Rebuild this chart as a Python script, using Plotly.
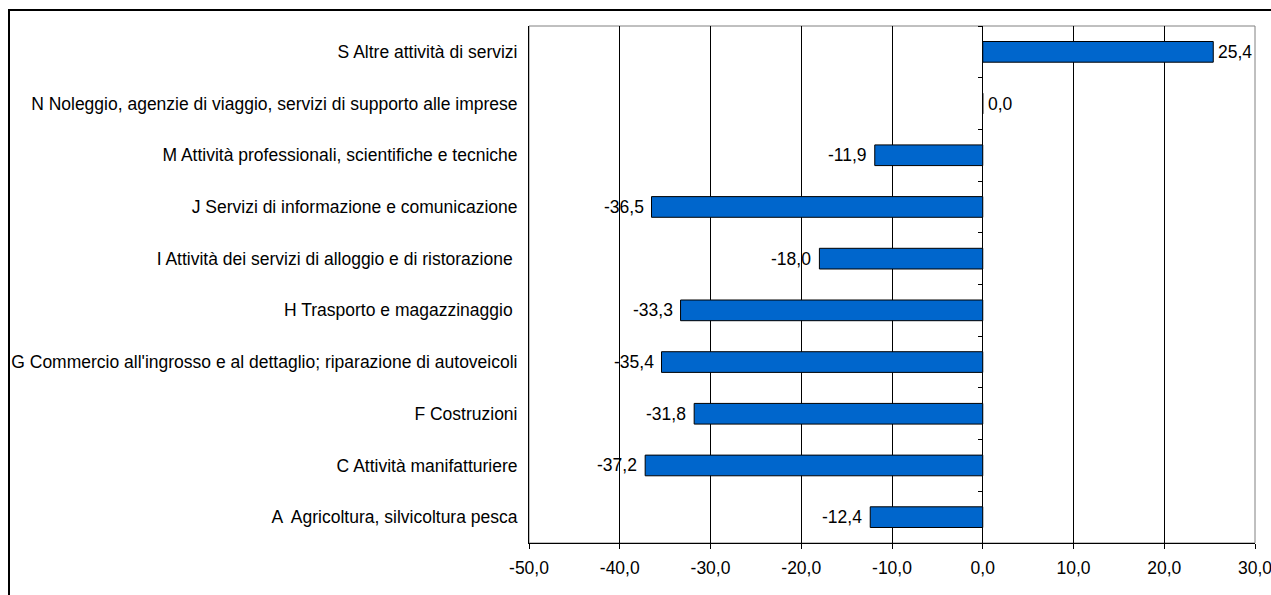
import plotly.graph_objects as go

categories = [
    "A  Agricoltura, silvicoltura pesca",
    "C Attività manifatturiere",
    "F Costruzioni",
    "G Commercio all'ingrosso e al dettaglio; riparazione di autoveicoli",
    "H Trasporto e magazzinaggio\u00a0",
    "I Attività dei servizi di alloggio e di ristorazione\u00a0",
    "J Servizi di informazione e comunicazione",
    "M Attività professionali, scientifiche e tecniche",
    "N Noleggio, agenzie di viaggio, servizi di supporto alle imprese",
    "S Altre attività di servizi",
]
values = [-12.4, -37.2, -31.8, -35.4, -33.3, -18.0, -36.5, -11.9, 0.0, 25.4]
x_ticks = [-50, -40, -30, -20, -10, 0, 10, 20, 30]
x_ticktext = [f"{v:.1f}".replace(".", ",") for v in x_ticks]

W, H = 1271, 595
L, R, T, B = 529, 16, 26, 52
pw, ph = W - L - R, H - T - B

font = dict(family="Liberation Sans, Arial, sans-serif", size=17.5, color="black")

fig = go.Figure()
fig.add_trace(go.Bar(
    x=values, y=categories, orientation="h", width=0.4,
    marker=dict(color="#0066CC", line=dict(color="black", width=1)),
    hoverinfo="skip",
))
# invisible trace for secondary y axis (ticks at the zero line)
fig.add_trace(go.Scatter(
    x=[0] * len(categories), y=categories, yaxis="y2", mode="markers",
    marker=dict(opacity=0), showlegend=False, hoverinfo="skip",
))

for v, c in zip(values, categories):
    txt = f"{v:.1f}".replace(".", ",")
    fig.add_annotation(
        x=v, y=c, text=txt, showarrow=False,
        xanchor="left" if v >= 0 else "right",
        xshift=3 if v >= 0 else -6, yshift=0,
        font=font,
    )

# outer frame
fig.add_shape(type="rect", xref="paper", yref="paper",
              x0=(9 - L) / pw, x1=(W + 20 - L) / pw,
              y0=-(B + 20) / ph, y1=1 + (T - 10) / ph,
              line=dict(color="black", width=2), layer="below")
# plot area frame (top/right grey)
fig.add_shape(type="rect", xref="paper", yref="paper",
              x0=0, x1=1, y0=0, y1=1,
              line=dict(color="#808080", width=1), layer="below")

fig.update_layout(
    width=W, height=H,
    margin=dict(l=L, r=R, t=T, b=B, autoexpand=False),
    paper_bgcolor="white", plot_bgcolor="white",
    showlegend=False,
    font=font,
    xaxis=dict(
        range=[-50, 30], tickvals=x_ticks, ticktext=x_ticktext,
        showgrid=True, gridcolor="black", gridwidth=1,
        zeroline=True, zerolinecolor="black", zerolinewidth=1,
        showline=True, linecolor="black", linewidth=1,
        ticks="outside", ticklen=5, tickcolor="black",
        ticklabelstandoff=4, automargin=False, ticklabeloverflow="allow",
        tickfont=font, fixedrange=True,
    ),
    yaxis=dict(
        type="category", categoryarray=categories,
        range=[-0.5, len(categories) - 0.5],
        showgrid=False, showline=True, linecolor="black", linewidth=1,
        ticks="", ticklabelstandoff=7, tickfont=font, fixedrange=True,
        automargin=False, ticklabeloverflow="allow",
    ),
    yaxis2=dict(
        type="category", categoryarray=categories,
        range=[-0.5, len(categories) - 0.5],
        overlaying="y", anchor="free", position=(0 - (-50)) / 80,
        showgrid=False, showline=False, showticklabels=False,
        ticks="outside", ticklen=5, tickcolor="black", tickson="boundaries",
        fixedrange=True, automargin=False,
    ),
)

fig.write_html("out.html")
